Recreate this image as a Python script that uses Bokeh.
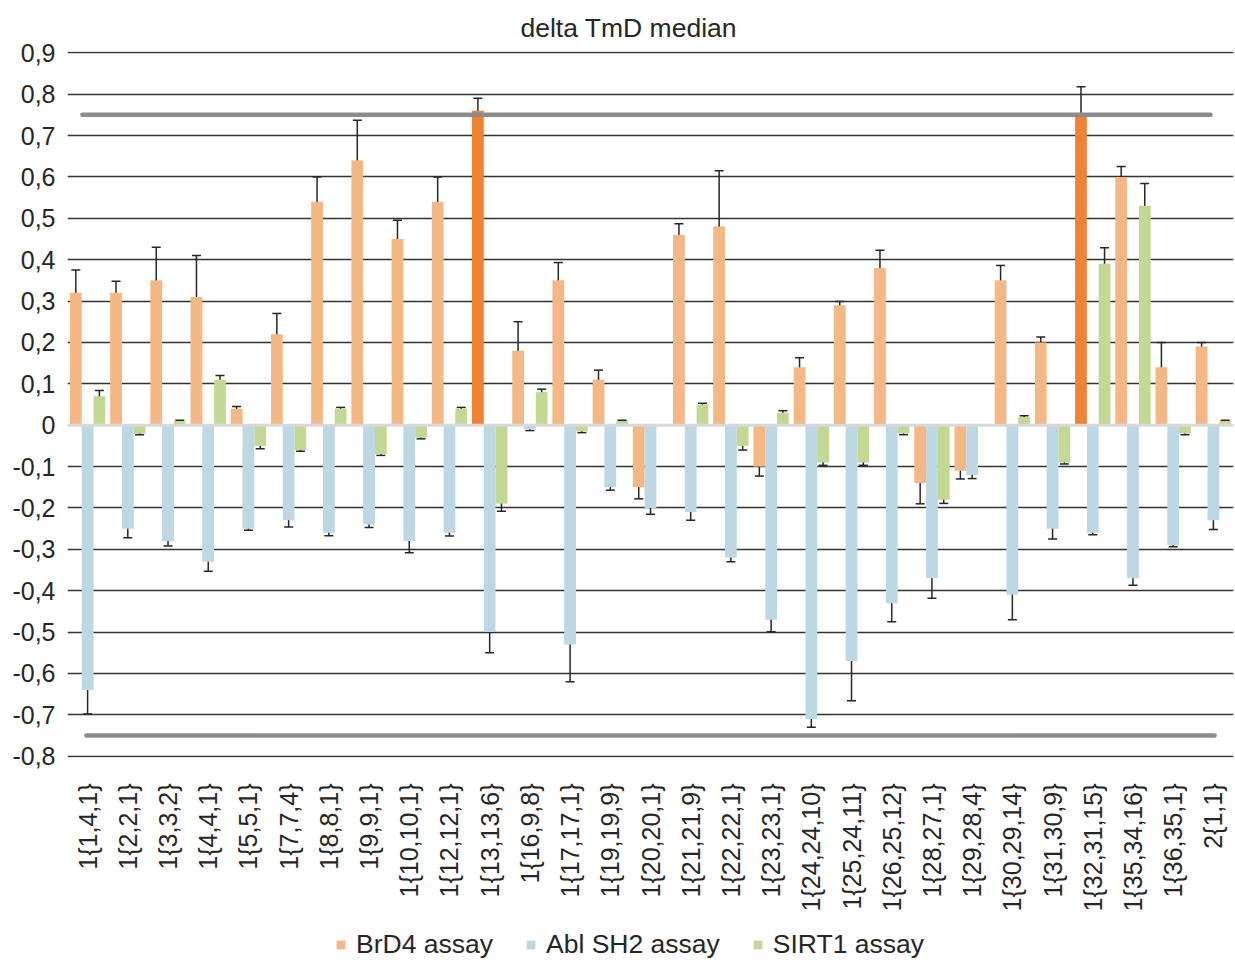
from bokeh.plotting import figure
from bokeh.layouts import column
from bokeh.models import (FactorRange, Range1d, ColumnDataSource, Whisker, TeeHead,
                          FixedTicker, CustomJSTickFormatter, Legend, LegendItem, Span)
from bokeh.transform import dodge
from bokeh.embed import file_html
from bokeh.resources import INLINE
import math

# ---------------- data ----------------
categories = ["1{1,4,1}", "1{2,2,1}", "1{3,3,2}", "1{4,4,1}", "1{5,5,1}", "1{7,7,4}",
              "1{8,8,1}", "1{9,9,1}", "1{10,10,1}", "1{12,12,1}", "1{13,13,6}", "1{16,9,8}",
              "1{17,17,1}", "1{19,19,9}", "1{20,20,1}", "1{21,21,9}", "1{22,22,1}",
              "1{23,23,1}", "1{24,24,10}", "1{25,24,11}", "1{26,25,12}", "1{28,27,1}",
              "1{29,28,4}", "1{30,29,14}", "1{31,30,9}", "1{32,31,15}", "1{35,34,16}",
              "1{36,35,1}", "2{1,1}"]

brd4 = [0.32, 0.32, 0.35, 0.31, 0.04, 0.22, 0.54, 0.64, 0.45, 0.54, 0.76, 0.18, 0.35,
        0.11, -0.15, 0.46, 0.48, -0.10, 0.14, 0.29, 0.38, -0.14, -0.11, 0.35, 0.20,
        0.75, 0.60, 0.14, 0.19]
brd4_err = [0.055, 0.028, 0.08, 0.10, 0.005, 0.05, 0.06, 0.097, 0.045, 0.06, 0.03, 0.07,
            0.043, 0.023, 0.028, 0.027, 0.135, 0.023, 0.023, 0.009, 0.043, 0.05, 0.02,
            0.036, 0.013, 0.068, 0.025, 0.06, 0.01]

abl_sh2 = [-0.64, -0.25, -0.28, -0.33, -0.25, -0.23, -0.26, -0.24, -0.28, -0.26, -0.50,
           -0.01, -0.53, -0.15, -0.20, -0.21, -0.32, -0.47, -0.71, -0.57, -0.43, -0.37,
           -0.12, -0.41, -0.25, -0.26, -0.37, -0.29, -0.23]
abl_sh2_err = [0.058, 0.022, 0.012, 0.023, 0.004, 0.016, 0.007, 0.007, 0.028, 0.008, 0.05,
               0.003, 0.09, 0.007, 0.015, 0.02, 0.01, 0.029, 0.02, 0.096, 0.045, 0.048,
               0.009, 0.06, 0.025, 0.005, 0.017, 0.004, 0.022]

sirt1 = [0.07, -0.02, 0.01, 0.11, -0.05, -0.06, 0.04, -0.07, -0.03, 0.04, -0.19, 0.08,
         -0.015, 0.01, 0.0, 0.05, -0.05, 0.03, -0.09, -0.09, -0.02, -0.18, 0.0, 0.02,
         -0.09, 0.39, 0.53, -0.02, 0.01]
sirt1_err = [0.014, 0.003, 0.002, 0.01, 0.007, 0.003, 0.003, 0.003, 0.003, 0.003, 0.018,
             0.007, 0.003, 0.002, 0.0, 0.003, 0.01, 0.005, 0.007, 0.007, 0.003, 0.009,
             0.0, 0.003, 0.004, 0.039, 0.054, 0.003, 0.002]

highlighted = ["1{13,13,6}", "1{32,31,15}"]
thresholds = [0.75, -0.75]
series_names = ["BrD4 assay", "Abl SH2 assay", "SIRT1 assay"]
y_ticks = [-0.8, -0.7, -0.6, -0.5, -0.4, -0.3, -0.2, -0.1, 0.0,
           0.1, 0.2, 0.3, 0.4, 0.5, 0.6, 0.7, 0.8, 0.9]

# ---------------- styles ----------------
C_ORANGE = "#F5B784"
C_ORANGE_HI = "#F08232"
C_BLUE = "#BDD7E4"
C_GREEN = "#C3D893"
TXT = "#262626"
FONT = "Liberation Sans"
BW = 0.293

p = figure(x_range=FactorRange(*categories, range_padding=0, factor_padding=0),
           y_range=Range1d(-0.803, 0.903),
           frame_width=1166, frame_height=706,
           output_backend="svg", toolbar_location=None,
           min_border_left=67, min_border_right=2, min_border_top=51,
           min_border_bottom=170,
           title="delta TmD median")

p.outline_line_color = None
p.background_fill_color = "white"
p.title.text_font = FONT
p.title.text_font_size = "26.5px"
p.title.text_font_style = "normal"
p.title.text_color = TXT
p.title.align = "left"
p.title.offset = 453
p.title.standoff = 18

src = ColumnDataSource(dict(
    cat=categories, brd4=brd4, abl=abl_sh2, sirt1=sirt1,
    brd4_color=[C_ORANGE_HI if c in highlighted else C_ORANGE for c in categories],
))

r1 = p.vbar(x=dodge("cat", -BW, range=p.x_range), top="brd4", width=BW, source=src,
            fill_color="brd4_color", line_color=None)
r2 = p.vbar(x=dodge("cat", 0, range=p.x_range), top="abl", width=BW, source=src,
            fill_color=C_BLUE, line_color=None)
r3 = p.vbar(x=dodge("cat", BW, range=p.x_range), top="sirt1", width=BW, source=src,
            fill_color=C_GREEN, line_color=None)

# threshold lines
p.segment(x0=[0.37, 0.47], y0=thresholds, x1=[28.43, 28.53], y1=thresholds,
          line_color="#8C8C8C", line_width=4.5, line_cap="round")

# zero axis line
p.add_layout(Span(location=0, dimension="width", line_color="#D9D9D9", line_width=3))

# error bars
for vals, errs, off in [(brd4, brd4_err, -BW), (abl_sh2, abl_sh2_err, 0), (sirt1, sirt1_err, BW)]:
    cs, up, lo = [], [], []
    for c, v, e in zip(categories, vals, errs):
        if e > 0:
            cs.append(c); up.append(v + e); lo.append(v - e)
    es = ColumnDataSource(dict(cat=cs, upper=up, lower=lo))
    w = Whisker(base=dodge("cat", off, range=p.x_range), upper="upper", lower="lower",
                source=es, line_color=TXT, line_width=1.5,
                upper_head=TeeHead(size=9, line_color=TXT, line_width=1.5),
                lower_head=TeeHead(size=9, line_color=TXT, line_width=1.5))
    p.add_layout(w)

# grid
p.xgrid.grid_line_color = None
p.ygrid.ticker = FixedTicker(ticks=[t for t in y_ticks if t != 0])
p.ygrid.grid_line_color = "#333333"
p.ygrid.grid_line_width = 1.5

# y axis
p.yaxis.ticker = FixedTicker(ticks=y_ticks)
p.yaxis.formatter = CustomJSTickFormatter(
    code="if (Math.abs(tick) < 1e-9) { return '0'; } return tick.toFixed(1).replace('.', ',');")
p.yaxis.axis_line_color = None
p.yaxis.major_tick_line_color = None
p.yaxis.major_tick_out = 0
p.yaxis.major_tick_in = 0
p.yaxis.minor_tick_line_color = None
p.yaxis.major_label_text_font = FONT
p.yaxis.major_label_text_font_size = "25px"
p.yaxis.major_label_text_color = TXT
p.yaxis.major_label_standoff = 12

# x axis
p.xaxis.axis_line_color = None
p.xaxis.major_tick_line_color = None
p.xaxis.major_tick_out = 0
p.xaxis.major_tick_in = 0
p.xaxis.minor_tick_line_color = None
p.xaxis.major_label_orientation = math.pi / 2
p.xaxis.major_label_text_font = FONT
p.xaxis.major_label_text_font_size = "25px"
p.xaxis.major_label_text_color = TXT
p.xaxis.major_label_standoff = 26

# ---------------- legend strip ----------------
lg = figure(width=1235, height=33, x_range=Range1d(0, 1235), y_range=Range1d(0, 33),
            output_backend="svg", toolbar_location=None,
            min_border_left=0, min_border_right=0, min_border_top=0, min_border_bottom=0)
lg.axis.visible = False
lg.grid.grid_line_color = None
lg.outline_line_color = None
hidden = dict(x=[-1000], top=[-1000])
g1 = lg.vbar(x="x", top="top", width=1, source=ColumnDataSource(hidden), fill_color=C_ORANGE, line_color=None)
g2 = lg.vbar(x="x", top="top", width=1, source=ColumnDataSource(hidden), fill_color=C_BLUE, line_color=None)
g3 = lg.vbar(x="x", top="top", width=1, source=ColumnDataSource(hidden), fill_color=C_GREEN, line_color=None)
legend = Legend(items=[LegendItem(label=series_names[0], renderers=[g1]),
                       LegendItem(label=series_names[1], renderers=[g2]),
                       LegendItem(label=series_names[2], renderers=[g3])],
                orientation="horizontal", location=(268, 0),
                label_text_font=FONT, label_text_font_size="26.5px", label_text_color=TXT,
                glyph_width=11, glyph_height=11, label_standoff=10, spacing=32,
                padding=0, margin=0, border_line_color=None, background_fill_alpha=0)
lg.add_layout(legend, "center")

layout = column(p, lg, spacing=0)
open("out.html", "w").write(file_html(layout, INLINE))
